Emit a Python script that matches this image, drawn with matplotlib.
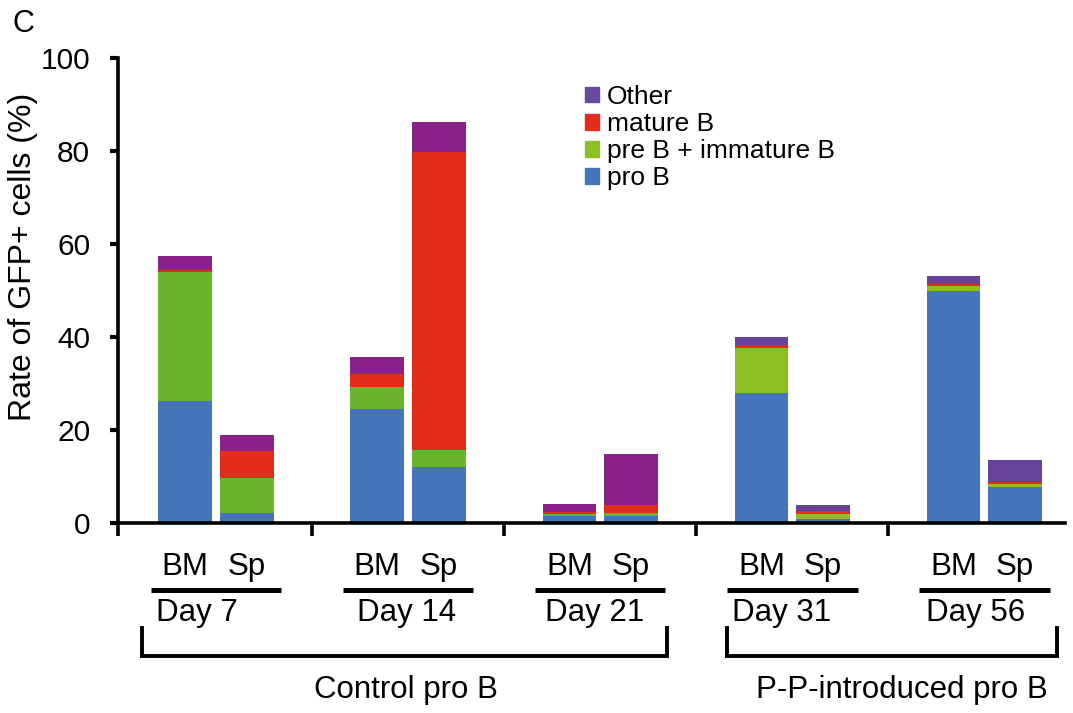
import matplotlib
matplotlib.use("Agg")
import matplotlib.pyplot as plt
import matplotlib.transforms as mtrans
from matplotlib.patches import Patch
import numpy as np

plt.rcParams['font.family'] = ['Liberation Sans', 'DejaVu Sans']

days = ["Day 7", "Day 14", "Day 21", "Day 31", "Day 56"]
tissues = ["BM", "Sp"]
groups = ["Control pro B", "P-P-introduced pro B"]
# values per bar in order: Day7 BM, Day7 Sp, Day14 BM, Day14 Sp, ...
pro_b = [26.2, 2.1, 24.6, 12.0, 1.5, 1.5, 28.0, 0.9, 49.9, 7.8]
pre_imm_b = [27.7, 7.5, 4.6, 3.6, 0.4, 0.7, 9.6, 1.0, 1.0, 0.6]
mature_b = [0.5, 5.9, 2.8, 64.2, 0.4, 1.7, 0.7, 0.7, 0.6, 0.5]
other = [3.0, 3.4, 3.6, 6.4, 1.7, 10.9, 1.8, 1.3, 1.6, 4.6]

c_blue = "#4674B9"
c_red = "#E32D1B"
green_ctrl, green_pp = "#6AB42D", "#8DBF23"
purple_ctrl, purple_pp = "#8A2189", "#66439B"
leg_green, leg_purple = "#8CBF26", "#6A4A9E"

fig = plt.figure(figsize=(10.73, 7.13), dpi=100)
ax = fig.add_axes([118/1073, (713-523)/713, 947/1073, 465/713])

n = len(days)
xs = []
for i in range(n):
    xs += [i - 0.16, i + 0.16]
xs = np.array(xs)
w = 0.28
is_ctrl = np.array([i < 3 for i in range(n) for _ in tissues])
greens = [green_ctrl if c else green_pp for c in is_ctrl]
purples = [purple_ctrl if c else purple_pp for c in is_ctrl]

b0 = np.zeros(len(xs))
ax.bar(xs, pro_b, w, bottom=b0, color=c_blue, linewidth=0)
b0 = b0 + np.array(pro_b)
ax.bar(xs, pre_imm_b, w, bottom=b0, color=greens, linewidth=0)
b0 = b0 + np.array(pre_imm_b)
ax.bar(xs, mature_b, w, bottom=b0, color=c_red, linewidth=0)
b0 = b0 + np.array(mature_b)
ax.bar(xs, other, w, bottom=b0, color=purples, linewidth=0)

ax.set_xlim(-0.51, 4.42)
ax.set_ylim(0, 100)
ax.set_yticks([0, 20, 40, 60, 80, 100])
ax.tick_params(axis='y', labelsize=21.5, width=3, length=6, direction='out', pad=14)
ax.set_xticks([-0.51, 0.5, 1.5, 2.5, 3.5])
ax.set_xticklabels([])
ax.tick_params(axis='x', width=2.6, length=9, direction='out')
for s in ['top', 'right']:
    ax.spines[s].set_visible(False)
ax.spines['left'].set_linewidth(2.6)
ax.spines['bottom'].set_linewidth(2.6)
ax.set_ylabel("Rate of GFP+ cells (%)", fontsize=23)
ax.yaxis.set_label_coords(-0.084, 0.572)

handles = [Patch(color=leg_purple, label="Other"),
           Patch(color=c_red, label="mature B"),
           Patch(color=leg_green, label="pre B + immature B"),
           Patch(color=c_blue, label="pro B")]
ax.legend(handles=handles, loc='upper left', bbox_to_anchor=(0.493, 0.942),
          frameon=False, fontsize=19, handlelength=0.53, handleheight=0.53,
          handletextpad=0.3, labelspacing=0.12, borderaxespad=0, borderpad=0)

tr = mtrans.blended_transform_factory(ax.transData, ax.transAxes)
def ay(ypix):
    return (523 - ypix) / 465.0

fs = 22.5
day_dx = [-19, -1, -6, -11, -9]  # pixel nudges of the day labels
for i in range(n):
    ax.text(i - 0.16, ay(567), tissues[0], transform=tr, ha='center', va='center', fontsize=fs, clip_on=False)
    ax.text(i + 0.16, ay(567), tissues[1], transform=tr, ha='center', va='center', fontsize=fs, clip_on=False)
    ax.plot([i - 0.34, i + 0.34], [ay(590), ay(590)], transform=tr, color='black', lw=3.6, clip_on=False, solid_capstyle='butt')
    ax.text(i + day_dx[i] / 192.0, ay(613), days[i], transform=tr, ha='center', va='center', fontsize=fs, clip_on=False)

brackets = [(-0.385, 2.35), (2.66, 4.38)]
label_x = [0.99, 3.57]
for (x0, x1), g, lx in zip(brackets, groups, label_x):
    ax.plot([x0, x0, x1, x1], [ay(628), ay(656), ay(656), ay(628)], transform=tr,
            color='black', lw=2.8, clip_on=False, solid_joinstyle='miter')
    ax.text(lx, ay(690), g, transform=tr, ha='center', va='center', fontsize=fs, clip_on=False)

fig.text(13/1073, 1 - 24/713, "C", fontsize=22, ha='left', va='center')

fig.savefig("out.png", dpi=100)
